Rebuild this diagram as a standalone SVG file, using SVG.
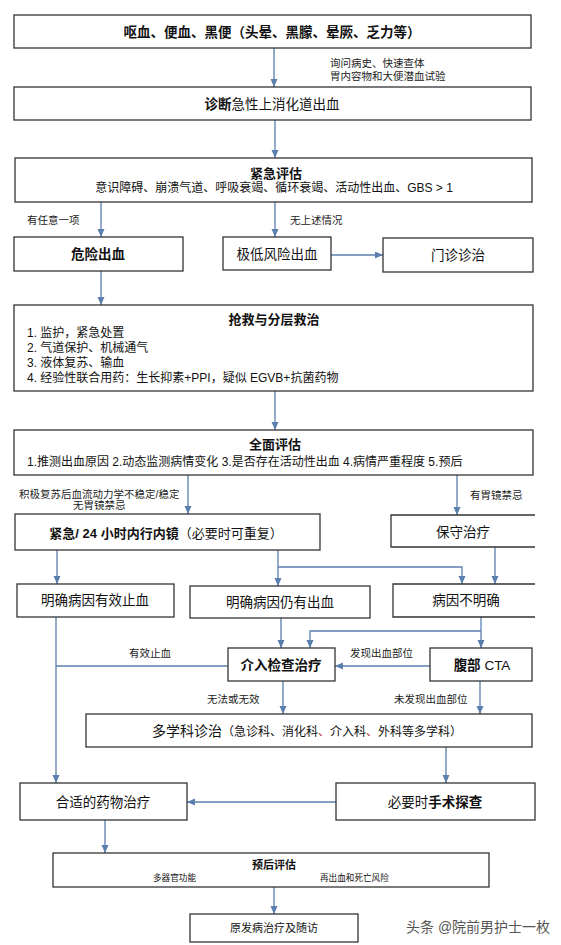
<svg xmlns="http://www.w3.org/2000/svg" width="561" height="945" viewBox="0 0 561 945">
<defs>
<style>
text{font-family:"Liberation Sans","Noto Sans CJK SC",sans-serif;fill:#111;}
.box{fill:#fff;stroke:#333;stroke-width:1.3;}
.t{font-size:13.5px;text-anchor:middle;}
.b{font-weight:bold;}
.s{font-size:12px;}
.lab{font-size:10.5px;fill:#222;}
.c{text-anchor:middle;}
.con{fill:none;stroke:#5a7fae;stroke-width:1.3;}
.arr{marker-end:url(#ah);}
</style>
<marker id="ah" markerUnits="userSpaceOnUse" markerWidth="9" markerHeight="8" refX="8" refY="3.5" orient="auto">
<path d="M0,0 L8,3.5 L0,7 z" fill="#5a7fae"/>
</marker>
</defs>
<rect width="561" height="945" fill="#fff"/>

<g id="connectors">
<path class="con arr" d="M274,48 V87"/>
<path class="con arr" d="M275,120 V158"/>
<path class="con arr" d="M101,202 V237"/>
<path class="con arr" d="M275,202 V237"/>
<path class="con arr" d="M331,255 H383"/>
<path class="con arr" d="M101,271 V305"/>
<path class="con arr" d="M275,391 V430"/>
<path class="con arr" d="M188,475 V514"/>
<path class="con arr" d="M457,475 V515"/>
<path class="con arr" d="M57,550 V584"/>
<path class="con arr" d="M278,550 V586"/>
<path class="con arr" d="M278,567 H462 V584"/>
<path class="con arr" d="M495,547 V584"/>
<path class="con arr" d="M56,617 V783"/>
<path class="con arr" d="M281,618 V648"/>
<path class="con arr" d="M481,617 V648"/>
<path class="con arr" d="M481,631 H310 V648"/>
<path class="con arr" d="M430,666 H335"/>
<path class="con" d="M228,666 H56"/>
<path class="con arr" d="M283,681 V714"/>
<path class="con arr" d="M480,681 V714"/>
<path class="con arr" d="M446,747 V783"/>
<path class="con arr" d="M336,802 H187"/>
<path class="con arr" d="M105,820 V853"/>
<path class="con arr" d="M274,887 V914"/>
<text class="lab" x="330" y="67">询问病史、快速查体</text>
<text class="lab" x="330" y="79.5">胃内容物和大便潜血试验</text>
<text class="lab" x="27" y="224">有任意一项</text>
<text class="lab" x="290" y="224">无上述情况</text>
<text class="lab" x="19" y="497.5">积极复苏后血流动力学不稳定/稳定</text>
<text class="lab" x="73" y="508.5">无胃镜禁忌</text>
<text class="lab" x="470" y="498.5">有胃镜禁忌</text>
<text class="lab" x="129" y="656.5">有效止血</text>
<text class="lab" x="350" y="656.5">发现出血部位</text>
<text class="lab" x="207" y="702.5">无法或无效</text>
<text class="lab" x="394" y="702.5">未发现出血部位</text>
</g>

<g id="n1">
<rect class="box" x="14" y="15" width="517" height="33"/>
<text class="t b" x="272" y="37">呕血、便血、黑便（头晕、黑朦、晕厥、乏力等）</text>
</g>
<g id="n2">
<rect class="box" x="14" y="87" width="517" height="33"/>
<text class="t" x="272" y="108.5"><tspan class="b">诊断</tspan>急性上消化道出血</text>
</g>
<g id="n3">
<rect class="box" x="15" y="158" width="517" height="44"/>
<text class="b c" style="font-size:13px" x="276" y="177.5">紧急评估</text>
<text class="s c" x="274" y="192">意识障碍、崩溃气道、呼吸衰竭、循环衰竭、活动性出血、GBS &gt; 1</text>
</g>
<g id="n4">
<rect class="box" x="14" y="237" width="169" height="34"/>
<text class="t b" x="98" y="259">危险出血</text>
</g>
<g id="n5">
<rect class="box" x="223" y="237" width="108" height="33"/>
<text class="t" x="277" y="258.5">极低风险出血</text>
</g>
<g id="n6">
<rect class="box" x="383" y="238" width="150" height="34"/>
<text class="t" x="458" y="259.5">门诊诊治</text>
</g>
<g id="n7">
<rect class="box" x="14" y="305" width="519" height="86"/>
<text class="b c" style="font-size:13px" x="274" y="323.5">抢救与分层救治</text>
<text class="s" x="27" y="337">1. 监护，紧急处置</text>
<text class="s" x="27" y="352">2. 气道保护、机械通气</text>
<text class="s" x="27" y="367">3. 液体复苏、输血</text>
<text class="s" x="27" y="382">4. 经验性联合用药：生长抑素+PPI，疑似 EGVB+抗菌药物</text>
</g>
<g id="n8">
<rect class="box" x="14" y="430" width="519" height="45"/>
<text class="b c" style="font-size:13px" x="275" y="448.5">全面评估</text>
<text class="s" x="27" y="466">1.推测出血原因 2.动态监测病情变化 3.是否存在活动性出血 4.病情严重程度 5.预后</text>
</g>
<g id="n9">
<rect class="box" x="15" y="514" width="305" height="36"/>
<text class="c" style="font-size:13px" x="166" y="537.5"><tspan class="b">紧急/ 24 小时内行内镜</tspan>（必要时可重复）</text>
</g>
<g id="n10">
<path class="box" d="M535,515 H391 V547 H535"/>
<text class="t" x="463" y="536.5">保守治疗</text>
</g>
<g id="n11">
<rect class="box" x="17" y="584" width="157" height="33"/>
<text class="t" x="95" y="605">明确病因有效止血</text>
</g>
<g id="n12">
<rect class="box" x="190" y="586" width="180" height="32"/>
<text class="t" x="280" y="606.5">明确病因仍有出血</text>
</g>
<g id="n13">
<path class="box" d="M535,584 H393 V617 H535"/>
<text class="t" x="466" y="605">病因不明确</text>
</g>
<g id="n14">
<rect class="box" x="228" y="648" width="107" height="33"/>
<text class="t b" x="281" y="669.5">介入检查治疗</text>
</g>
<g id="n15">
<rect class="box" x="430" y="648" width="102" height="33"/>
<text class="t" x="482" y="669.5"><tspan class="b">腹部</tspan> CTA</text>
</g>
<g id="n16">
<rect class="box" x="86" y="714" width="446" height="33"/>
<text class="c" style="font-size:14px" x="307" y="736">多学科诊治<tspan style="font-size:12px">（急诊科、消化科<tspan style="fill:#c0392b">、</tspan>介入科<tspan style="fill:#c0392b">、</tspan>外科等多学科）</tspan></text>
</g>
<g id="n17">
<rect class="box" x="20" y="783" width="167" height="37"/>
<text class="t" x="103" y="806.5">合适的药物治疗</text>
</g>
<g id="n18">
<rect class="box" x="336" y="783" width="199" height="37"/>
<text class="t" x="435" y="806.5">必要时<tspan class="b">手术探查</tspan></text>
</g>
<g id="n19">
<rect class="box" x="53" y="853" width="436" height="34"/>
<text class="b c" style="font-size:11px" x="274" y="869">预后评估</text>
<text style="font-size:8.6px" x="153" y="881">多器官功能</text>
<text style="font-size:8.6px" x="320" y="881">再出血和死亡风险</text>
</g>
<g id="n20">
<rect class="box" x="190" y="914" width="168" height="28"/>
<text class="c" style="font-size:11px" x="274" y="932">原发病治疗及随访</text>
</g>
<text x="406" y="932" style="font-size:14px;fill:#555">头条 @院前男护士一枚</text>
</svg>
